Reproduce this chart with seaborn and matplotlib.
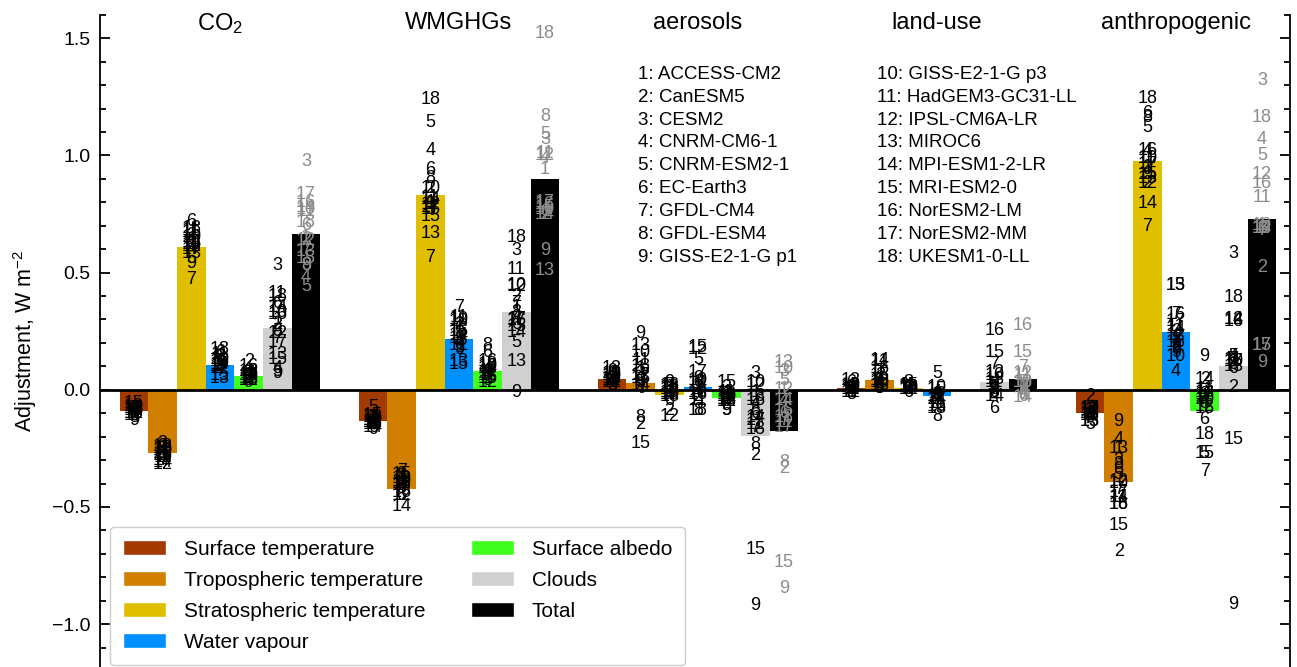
import numpy as np
import pandas as pd
import seaborn as sns
import matplotlib.pyplot as plt
from matplotlib.patches import Patch

nan = np.nan

forcings = ["CO$_2$", "WMGHGs", "aerosols", "land-use", "anthropogenic"]
components = ["Surface temperature", "Tropospheric temperature", "Stratospheric temperature",
              "Water vapour", "Surface albedo", "Clouds", "Total"]
colours = ["#a33a00", "#d07f00", "#e0be00", "#0090ff", "#40ff20", "#d0d0d0", "#000000"]

models = ["ACCESS-CM2", "CanESM5", "CESM2", "CNRM-CM6-1", "CNRM-ESM2-1", "EC-Earth3",
          "GFDL-CM4", "GFDL-ESM4", "GISS-E2-1-G p1", "GISS-E2-1-G p3", "HadGEM3-GC31-LL",
          "IPSL-CM6A-LR", "MIROC6", "MPI-ESM1-2-LR", "MRI-ESM2-0", "NorESM2-LM",
          "NorESM2-MM", "UKESM1-0-LL"]

# multi-model mean adjustments (W m-2), one per component
co2_mean = [-0.09, -0.27, 0.61, 0.105, 0.057, 0.265, 0.665]
wm_mean = [-0.135, -0.425, 0.83, 0.215, 0.082, 0.334, 0.90]
ae_mean = [0.044, 0.031, -0.023, 0.012, -0.035, -0.197, -0.175]
lu_mean = [0.008, 0.04, 0.006, -0.027, nan, 0.035, 0.048]
an_mean = [-0.10, -0.395, 0.977, 0.245, -0.09, 0.10, 0.73]

# individual models, order as in the model list
co2_ts = [-0.09, -0.11, -0.08, -0.10, -0.12, -0.09, -0.08, -0.10, -0.13, -0.07, -0.09, -0.10, -0.08, -0.09, -0.06, -0.08, -0.11, -0.10]
co2_tt = [-0.27, -0.29, -0.23, -0.26, -0.28, -0.25, -0.30, -0.27, -0.24, -0.26, -0.29, -0.32, -0.25, -0.31, -0.28, -0.27, -0.30, -0.24]
co2_st = [0.64, 0.66, 0.62, 0.60, 0.56, 0.72, 0.47, 0.63, 0.54, 0.65, 0.68, 0.61, 0.58, 0.63, 0.67, 0.62, 0.60, 0.69]
co2_wv = [0.12, 0.14, 0.10, 0.09, 0.11, 0.16, 0.08, 0.10, 0.12, 0.13, 0.15, 0.09, 0.05, 0.11, 0.06, 0.12, 0.10, 0.17]
co2_al = [0.06, 0.12, 0.05, 0.07, 0.04, 0.08, 0.05, 0.06, 0.03, 0.06, 0.07, 0.04, 0.05, 0.06, 0.04, 0.10, 0.05, 0.08]
co2_cl = [0.30, 0.28, 0.53, 0.09, 0.08, 0.37, 0.22, 0.25, 0.07, 0.33, 0.41, 0.24, 0.15, 0.35, 0.13, 0.32, 0.20, 0.40]
co2_tot = [0.65, 0.64, 0.975, 0.48, 0.44, 0.70, 0.60, 0.53, 0.53, 0.77, 0.76, 0.635, 0.59, 0.78, 0.56, 0.80, 0.835, 0.715]

wm_ts = [-0.13, -0.15, -0.12, -0.14, -0.075, -0.16, -0.12, -0.14, -0.17, -0.13, -0.15, -0.14, -0.12, -0.16, -0.11, -0.14, -0.13, -0.15]
wm_tt = [-0.38, -0.40, -0.36, -0.39, -0.42, -0.45, -0.35, -0.37, -0.41, -0.39, -0.40, -0.45, -0.38, -0.50, -0.36, -0.44, -0.41, -0.40]
wm_st = [0.80, 0.86, 0.77, 1.02, 1.14, 0.94, 0.565, 0.90, 0.79, 0.86, 0.82, 0.79, 0.665, 0.81, 0.74, 0.77, 0.78, 1.24]
wm_wv = [0.24, 0.28, 0.22, 0.20, 0.18, 0.26, 0.35, 0.21, 0.17, 0.30, 0.31, 0.19, 0.12, 0.23, 0.11, 0.25, 0.22, 0.29]
wm_al = [0.08, 0.05, 0.07, 0.09, 0.06, 0.16, 0.07, 0.19, 0.04, 0.10, 0.08, 0.03, 0.06, 0.09, 0.05, 0.12, 0.07, 0.11]
wm_cl = [0.35, 0.40, 0.595, 0.31, 0.20, 0.28, 0.37, 0.33, -0.012, 0.445, 0.515, 0.44, 0.12, 0.245, 0.27, 0.295, 0.30, 0.65]
wm_tot = [0.94, 0.75, 1.07, 0.985, 1.09, 0.76, 0.75, 1.165, 0.595, 0.77, 1.01, 1.00, 0.51, 0.75, 0.78, 0.79, 0.80, 1.52]

ae_ts = [0.05, 0.06, 0.02, 0.04, 0.02, 0.07, 0.03, 0.05, 0.08, 0.06, 0.04, 0.03, 0.09, 0.04, 0.06, 0.05, 0.03, 0.07]
ae_tt = [0.09, -0.15, 0.07, 0.005, 0.03, 0.04, 0.005, -0.12, 0.24, 0.16, 0.125, 0.06, 0.19, 0.02, -0.23, 0.05, 0.06, 0.10]
ae_st = [-0.01, -0.09, 0.01, -0.02, 0.02, -0.045, 0.00, -0.01, 0.03, -0.02, 0.01, -0.115, -0.03, 0.00, -0.01, 0.02, -0.02, 0.01]
ae_wv = [0.02, -0.03, 0.01, -0.01, 0.13, 0.03, 0.00, -0.09, 0.05, 0.04, -0.045, 0.17, -0.01, 0.025, 0.18, -0.02, 0.075, -0.09]
ae_al = [-0.02, -0.04, 0.01, -0.03, -0.09, -0.05, -0.02, -0.04, -0.09, -0.03, -0.01, -0.05, -0.03, -0.04, 0.03, -0.02, -0.04, -0.05]
ae_cl = [-0.01, -0.28, 0.07, -0.06, -0.09, -0.10, -0.16, -0.235, -0.92, 0.03, -0.15, 0.02, -0.03, -0.12, -0.68, -0.045, -0.13, -0.17]
ae_tot = [0.00, -0.335, 0.08, -0.05, 0.04, -0.10, -0.13, -0.31, -0.85, 0.09, -0.14, 0.00, 0.117, -0.045, -0.735, -0.09, -0.16, -0.12]

lu_ts = [0.01, 0.00, nan, 0.02, -0.01, 0.03, 0.00, -0.02, 0.01, 0.02, 0.00, -0.01, 0.04, 0.01, 0.00, 0.02, nan, nan]
lu_tt = [0.04, 0.06, nan, 0.03, 0.005, 0.05, 0.08, 0.02, 0.005, 0.03, 0.12, 0.04, 0.02, 0.125, 0.06, 0.09, nan, nan]
lu_st = [0.01, 0.00, nan, 0.02, 0.00, -0.01, 0.01, 0.03, 0.00, 0.01, 0.02, 0.00, 0.01, 0.00, 0.02, 0.01, nan, nan]
lu_wv = [-0.02, -0.04, nan, -0.01, 0.07, -0.03, -0.05, -0.115, -0.02, 0.01, -0.06, -0.03, -0.08, -0.04, 0.00, -0.07, nan, nan]
lu_al = [nan] * 18
lu_cl = [0.01, 0.01, nan, -0.03, 0.02, -0.08, 0.11, -0.01, 0.00, 0.06, 0.03, 0.075, 0.045, -0.03, 0.16, 0.255, nan, nan]
lu_tot = [0.01, 0.02, nan, -0.01, 0.03, -0.03, 0.097, -0.02, 0.00, 0.03, 0.06, 0.07, 0.03, -0.035, 0.16, 0.275, nan, nan]

an_ts = [-0.09, -0.03, -0.08, -0.10, -0.15, -0.11, -0.09, -0.10, -0.12, -0.08, -0.11, -0.10, -0.135, -0.09, -0.135, -0.10, -0.08, -0.11]
an_tt = [-0.25, -0.69, -0.30, -0.21, -0.36, -0.34, -0.425, -0.32, -0.135, -0.40, -0.46, -0.39, -0.25, -0.46, -0.58, -0.49, -0.44, -0.49]
an_st = [0.95, 0.88, 0.95, 1.02, 1.12, 1.18, 0.695, 1.16, 0.92, 0.985, 0.985, 0.88, 0.90, 0.795, 0.92, 1.02, 0.96, 1.245]
an_wv = [0.22, 0.18, 0.25, 0.08, 0.17, 0.19, 0.32, 0.21, 0.16, 0.14, 0.27, 0.23, 0.445, 0.26, 0.445, 0.32, 0.29, 0.20]
an_al = [-0.03, 0.045, -0.02, -0.05, -0.27, -0.125, -0.35, -0.06, 0.14, -0.04, 0.00, -0.07, -0.01, 0.045, -0.27, -0.08, -0.02, -0.19]
an_cl = [0.12, 0.01, 0.58, 0.14, 0.14, 0.09, 0.13, 0.11, -0.915, 0.12, 0.13, 0.30, 0.10, 0.30, -0.21, 0.29, 0.12, 0.395]
an_tot = [0.70, 0.52, 1.32, 1.07, 1.00, 0.69, 0.68, 0.69, 0.117, 0.70, 0.82, 0.92, 0.69, 0.69, 0.19, 0.88, 0.19, 1.16]

means = [co2_mean, wm_mean, ae_mean, lu_mean, an_mean]
per_model = [
    [co2_ts, co2_tt, co2_st, co2_wv, co2_al, co2_cl, co2_tot],
    [wm_ts, wm_tt, wm_st, wm_wv, wm_al, wm_cl, wm_tot],
    [ae_ts, ae_tt, ae_st, ae_wv, ae_al, ae_cl, ae_tot],
    [lu_ts, lu_tt, lu_st, lu_wv, lu_al, lu_cl, lu_tot],
    [an_ts, an_tt, an_st, an_wv, an_al, an_cl, an_tot],
]

sns.set_theme(style="white")
plt.rcParams["font.family"] = ["Liberation Sans", "DejaVu Sans"]
plt.rcParams["mathtext.default"] = "regular"
for key in ["text.color", "axes.labelcolor", "xtick.color", "ytick.color"]:
    plt.rcParams[key] = "black"

rows = []
for f, m in zip(forcings, means):
    for c, v in zip(components, m):
        rows.append({"forcing": f, "component": c, "adjustment": v})
df = pd.DataFrame(rows)

fig = plt.figure(figsize=(12.97, 6.67), dpi=100)
ax = fig.add_axes([0.0771, 0.0, 0.9175, 0.9777])

sns.barplot(data=df, x="forcing", y="adjustment", hue="component", order=forcings,
            hue_order=components, palette=colours, width=0.84, saturation=1,
            errorbar=None, linewidth=0, legend=False, ax=ax)

ax.axhline(0, color="black", lw=2, zorder=1)

bw = 0.84 / len(components)
for i in range(len(forcings)):
    for j in range(len(components)):
        xc = i + (j - 3) * bw
        col = "#8c8c8c" if components[j] == "Total" else "black"
        for k, v in enumerate(per_model[i][j]):
            if np.isnan(v):
                continue
            ax.text(xc, v, str(k + 1), ha="center", va="center", fontsize=13,
                    color=col, zorder=5)
    ax.text(i, 1.565, forcings[i], ha="center", va="center", fontsize=17)

# model key
for k, name in enumerate(models):
    col = k // 9
    ax.text(1.749 + col, 1.347 - 0.0979 * (k % 9), f"{k + 1}: {name}",
            ha="left", va="center", fontsize=13.5)

ax.set_xlim(-0.502, 4.477)
ax.set_ylim(-1.183, 1.6)
ax.set_xticks([])
ax.set_xlabel("")
ax.set_ylabel("Adjustment, W m$^{-2}$", fontsize=15.5, labelpad=9)
ax.set_yticks([-1.0, -0.5, 0.0, 0.5, 1.0, 1.5])
ax.set_yticks(np.arange(-1.1, 1.61, 0.1), minor=True)
ax.tick_params(axis="y", which="both", direction="in", left=True, right=True,
               labelright=False, width=1.3, labelsize=14, pad=7)
ax.tick_params(axis="y", which="major", length=7)
ax.tick_params(axis="y", which="minor", length=4)
for s in ["top", "bottom"]:
    ax.spines[s].set_visible(False)
for s in ["left", "right"]:
    ax.spines[s].set_linewidth(1.3)
    ax.spines[s].set_color("black")

handles = [Patch(facecolor=c, label=l) for c, l in zip(colours, components)]
ax.legend(handles=handles, ncol=2, loc="upper left", bbox_to_anchor=(110 / 1297, 1 - 527 / 667),
          bbox_transform=fig.transFigure, borderaxespad=0, fontsize=15, handlelength=2.07,
          handleheight=0.72, handletextpad=0.85, columnspacing=2.2, labelspacing=0.58,
          borderpad=0.62, frameon=True, edgecolor="#cccccc", framealpha=1)

fig.savefig("out.png", dpi=100)
